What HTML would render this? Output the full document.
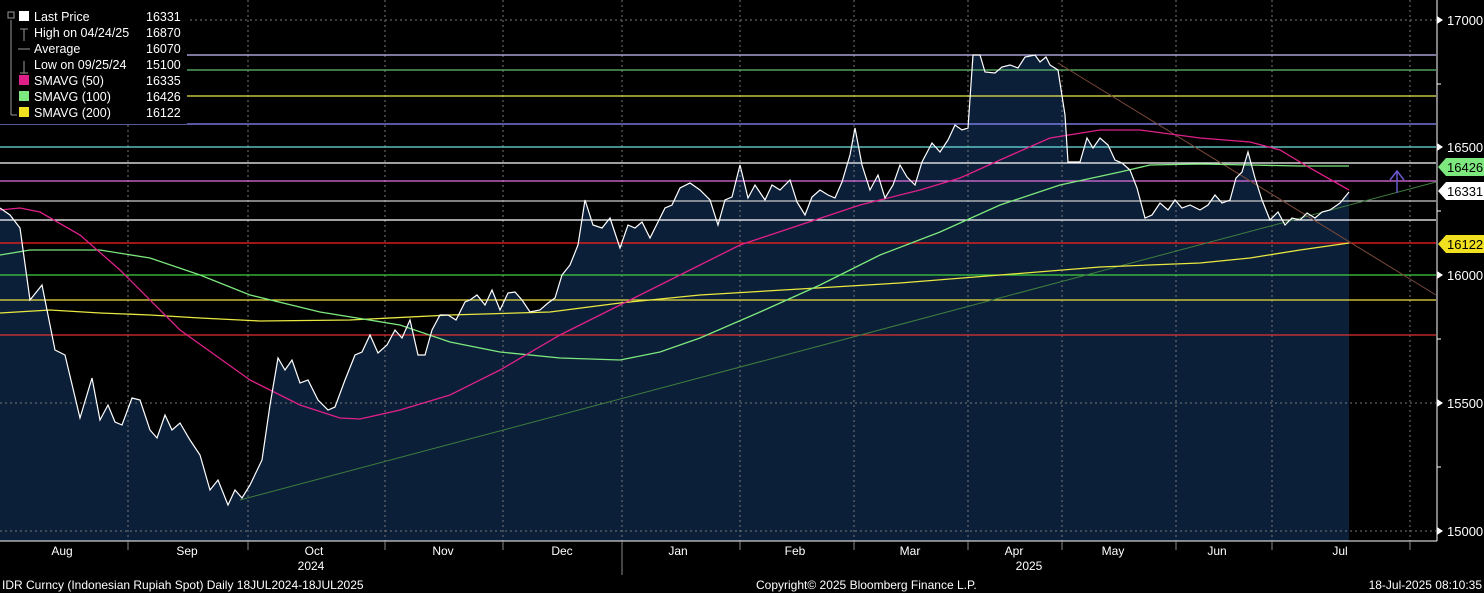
<!DOCTYPE html><html><head><style>body{margin:0;background:#000;}svg{display:block}text{font-family:"Liberation Sans",sans-serif}</style></head><body>
<svg width="1484" height="593" viewBox="0 0 1484 593" xmlns="http://www.w3.org/2000/svg">
<rect width="1484" height="593" fill="#000"/>
<polygon fill="#0c1f38" points="0,541 0,208 10,215 20,228 30,300 42,285 55,350 65,355 80,418 92,378 100,420 108,405 115,422 122,425 132,398 140,400 150,430 157,438 165,415 172,430 180,423 190,440 200,455 210,490 218,480 228,505 235,490 242,498 250,485 262,460 270,405 278,358 285,370 292,360 300,383 308,380 318,400 328,410 335,407 345,380 355,355 362,352 370,335 378,353 387,345 395,330 402,338 410,320 418,355 425,355 432,330 440,315 448,315 456,320 465,302 470,300 477,295 485,305 492,290 500,310 508,293 515,292 522,300 530,312 540,310 548,303 555,298 562,275 570,265 578,245 585,200 593,225 602,228 610,218 620,248 628,225 635,228 642,222 650,238 658,222 665,208 672,205 680,188 690,183 700,190 710,200 718,225 725,200 732,197 740,165 748,198 755,185 765,200 772,185 780,190 790,180 797,202 805,215 812,197 820,190 828,195 835,198 842,182 850,155 855,128 862,165 870,190 878,175 885,198 893,185 900,165 907,177 915,185 922,162 932,143 940,152 948,140 955,125 962,130 968,128 973,55 980,55 985,72 995,73 1002,67 1010,65 1018,68 1025,57 1035,55 1040,62 1046,57 1050,65 1058,70 1065,115 1068,162 1080,162 1087,138 1093,148 1100,138 1108,145 1115,160 1122,163 1130,170 1137,188 1145,218 1152,215 1160,203 1168,210 1175,200 1182,208 1190,205 1200,210 1208,205 1215,195 1222,203 1230,200 1236,178 1242,172 1248,152 1255,178 1262,200 1270,220 1278,212 1285,225 1292,218 1300,220 1307,213 1315,218 1322,212 1330,210 1340,203 1349,192 1349,541"/>
<g stroke="#777" stroke-dasharray="2,3" stroke-width="1">
<line x1="128" y1="0" x2="128" y2="541"/><line x1="248" y1="0" x2="248" y2="541"/><line x1="385" y1="0" x2="385" y2="541"/><line x1="503" y1="0" x2="503" y2="541"/><line x1="622" y1="0" x2="622" y2="541"/><line x1="740" y1="0" x2="740" y2="541"/><line x1="854" y1="0" x2="854" y2="541"/><line x1="968" y1="0" x2="968" y2="541"/><line x1="1062" y1="0" x2="1062" y2="541"/><line x1="1176" y1="0" x2="1176" y2="541"/><line x1="1272" y1="0" x2="1272" y2="541"/><line x1="1410" y1="0" x2="1410" y2="541"/>
<line x1="0" y1="20" x2="1436" y2="20"/><line x1="0" y1="403" x2="1436" y2="403"/><line x1="0" y1="531" x2="1436" y2="531"/>
</g>
<g stroke-width="1.2">
<line x1="0" y1="55" x2="1436" y2="55" stroke="#c8c0ff"/>
<line x1="0" y1="70" x2="1436" y2="70" stroke="#5fbf6f"/>
<line x1="0" y1="96" x2="1436" y2="96" stroke="#e8e850"/>
<line x1="0" y1="124" x2="1436" y2="124" stroke="#8c8cff"/>
<line x1="0" y1="147" x2="1436" y2="147" stroke="#70e0e0"/>
<line x1="0" y1="163" x2="1436" y2="163" stroke="#ffffff"/>
<line x1="0" y1="181" x2="1436" y2="181" stroke="#e070e0"/>
<line x1="0" y1="201" x2="1436" y2="201" stroke="#cccccc"/>
<line x1="0" y1="220" x2="1436" y2="220" stroke="#ffffff"/>
<line x1="0" y1="243" x2="1436" y2="243" stroke="#ff2020"/>
<line x1="0" y1="275" x2="1436" y2="275" stroke="#40d040"/>
<line x1="0" y1="300" x2="1436" y2="300" stroke="#f0e040"/>
<line x1="0" y1="335" x2="1436" y2="335" stroke="#e03030"/>
</g>
<line x1="240" y1="500" x2="1436" y2="182" stroke="#3f7f3f" stroke-width="1"/>
<line x1="1058" y1="63" x2="1436" y2="295" stroke="#7a4a3a" stroke-width="1"/>
<polyline fill="none" stroke="#e8e840" stroke-width="1.3" points="0,313 50,310 100,313 150,315 200,318 260,321 350,320 450,315 550,312 620,303 700,295 800,289 900,283 1000,275 1100,267 1200,263 1250,258 1300,250 1349,243"/>
<polyline fill="none" stroke="#7de87d" stroke-width="1.3" points="0,255 30,250 100,250 150,258 200,275 250,295 320,312 400,325 450,342 500,352 560,358 620,360 660,352 700,338 760,312 820,285 880,255 940,232 1000,205 1060,185 1120,172 1150,165 1200,164 1250,165 1300,166 1349,166"/>
<polyline fill="none" stroke="#e0208a" stroke-width="1.3" points="0,210 20,208 40,212 80,235 120,270 180,330 250,380 300,405 340,418 360,419 400,410 450,395 500,370 560,335 620,305 680,275 740,245 800,225 860,205 920,190 960,178 1000,160 1050,138 1100,130 1140,130 1200,138 1250,142 1280,150 1310,168 1349,190"/>
<polyline fill="none" stroke="#fff" stroke-width="1.2" points="0,208 10,215 20,228 30,300 42,285 55,350 65,355 80,418 92,378 100,420 108,405 115,422 122,425 132,398 140,400 150,430 157,438 165,415 172,430 180,423 190,440 200,455 210,490 218,480 228,505 235,490 242,498 250,485 262,460 270,405 278,358 285,370 292,360 300,383 308,380 318,400 328,410 335,407 345,380 355,355 362,352 370,335 378,353 387,345 395,330 402,338 410,320 418,355 425,355 432,330 440,315 448,315 456,320 465,302 470,300 477,295 485,305 492,290 500,310 508,293 515,292 522,300 530,312 540,310 548,303 555,298 562,275 570,265 578,245 585,200 593,225 602,228 610,218 620,248 628,225 635,228 642,222 650,238 658,222 665,208 672,205 680,188 690,183 700,190 710,200 718,225 725,200 732,197 740,165 748,198 755,185 765,200 772,185 780,190 790,180 797,202 805,215 812,197 820,190 828,195 835,198 842,182 850,155 855,128 862,165 870,190 878,175 885,198 893,185 900,165 907,177 915,185 922,162 932,143 940,152 948,140 955,125 962,130 968,128 973,55 980,55 985,72 995,73 1002,67 1010,65 1018,68 1025,57 1035,55 1040,62 1046,57 1050,65 1058,70 1065,115 1068,162 1080,162 1087,138 1093,148 1100,138 1108,145 1115,160 1122,163 1130,170 1137,188 1145,218 1152,215 1160,203 1168,210 1175,200 1182,208 1190,205 1200,210 1208,205 1215,195 1222,203 1230,200 1236,178 1242,172 1248,152 1255,178 1262,200 1270,220 1278,212 1285,225 1292,218 1300,220 1307,213 1315,218 1322,212 1330,210 1340,203 1349,192"/>
<g stroke="#6a5acd" stroke-width="1.5" fill="none"><line x1="1397" y1="193" x2="1397" y2="171"/><polyline points="1390,180 1397,171 1404,180"/></g>
<line x1="1437" y1="0" x2="1437" y2="541" stroke="#fff"/>
<line x1="0" y1="541" x2="1437" y2="541" stroke="#fff"/>
<g fill="#fff" font-size="13">
<polygon points="1437,16 1443,20 1437,24"/><text x="1447" y="25">17000</text>
<polygon points="1437,143 1443,147 1437,151"/><text x="1447" y="152">16500</text>
<polygon points="1437,271 1443,275 1437,279"/><text x="1447" y="280">16000</text>
<polygon points="1437,399 1443,403 1437,407"/><text x="1447" y="408">15500</text>
<polygon points="1437,527 1443,531 1437,535"/><text x="1447" y="536">15000</text>
<line x1="1437" y1="84" x2="1441" y2="84" stroke="#fff"/><line x1="1437" y1="211" x2="1441" y2="211" stroke="#fff"/><line x1="1437" y1="339" x2="1441" y2="339" stroke="#fff"/><line x1="1437" y1="467" x2="1441" y2="467" stroke="#fff"/>
</g>
<polygon points="1438,167 1446,158 1484,158 1484,176 1446,176" fill="#7de87d"/><text x="1447" y="172" font-size="13" fill="#000">16426</text>
<polygon points="1438,191 1446,182 1484,182 1484,200 1446,200" fill="#fff"/><text x="1447" y="196" font-size="13" fill="#000">16331</text>
<polygon points="1438,244 1446,235 1484,235 1484,253 1446,253" fill="#f0e020"/><text x="1447" y="249" font-size="13" fill="#000">16122</text>
<g stroke="#888"><line x1="128" y1="541" x2="128" y2="550"/><line x1="248" y1="541" x2="248" y2="550"/><line x1="385" y1="541" x2="385" y2="550"/><line x1="503" y1="541" x2="503" y2="550"/><line x1="622" y1="541" x2="622" y2="575"/><line x1="740" y1="541" x2="740" y2="550"/><line x1="854" y1="541" x2="854" y2="550"/><line x1="968" y1="541" x2="968" y2="550"/><line x1="1062" y1="541" x2="1062" y2="550"/><line x1="1176" y1="541" x2="1176" y2="550"/><line x1="1272" y1="541" x2="1272" y2="550"/><line x1="1410" y1="541" x2="1410" y2="550"/></g>
<g fill="#fff" font-size="12" text-anchor="middle">
<text x="62" y="555">Aug</text><text x="187" y="555">Sep</text><text x="314" y="555">Oct</text><text x="443" y="555">Nov</text><text x="562" y="555">Dec</text><text x="678" y="555">Jan</text><text x="795" y="555">Feb</text><text x="910" y="555">Mar</text><text x="1014" y="555">Apr</text><text x="1113" y="555">May</text><text x="1217" y="555">Jun</text><text x="1340" y="555">Jul</text>
<text x="311" y="570">2024</text><text x="1029" y="570">2025</text>
</g>
<g fill="#fff" font-size="12">
<text x="2" y="589">IDR Curncy (Indonesian Rupiah Spot)  Daily 18JUL2024-18JUL2025</text>
<text x="756" y="589">Copyright© 2025 Bloomberg Finance L.P.</text>
<text x="1482" y="589" text-anchor="end">18-Jul-2025 08:10:35</text>
</g>
<rect x="0" y="0" width="187" height="124" fill="#000"/>
<g font-size="12.5" fill="#fff">
<rect x="19" y="11" width="10" height="10" fill="#fff"/><text x="34" y="21">Last Price</text><text x="146" y="21">16331</text>
<text x="34" y="37">High on 04/24/25</text><text x="146" y="37">16870</text>
<text x="34" y="53">Average</text><text x="146" y="53">16070</text>
<text x="34" y="69">Low on 09/25/24</text><text x="146" y="69">15100</text>
<rect x="19" y="75" width="10" height="10" fill="#e0208a"/><text x="34" y="85">SMAVG (50)</text><text x="146" y="85">16335</text>
<rect x="19" y="91" width="10" height="10" fill="#7de87d"/><text x="34" y="101">SMAVG (100)</text><text x="146" y="101">16426</text>
<rect x="19" y="107" width="10" height="10" fill="#f0e020"/><text x="34" y="117">SMAVG (200)</text><text x="146" y="117">16122</text>
</g>
<g stroke="#999" fill="none"><rect x="8" y="12" width="6" height="6"/><line x1="11" y1="20" x2="11" y2="115"/><line x1="11" y1="115" x2="17" y2="115"/><line x1="24" y1="29" x2="24" y2="41"/><line x1="20" y1="29" x2="28" y2="29"/><line x1="18" y1="49" x2="30" y2="49"/><line x1="24" y1="61" x2="24" y2="73"/><line x1="20" y1="73" x2="28" y2="73"/></g>
</svg>
</body></html>
